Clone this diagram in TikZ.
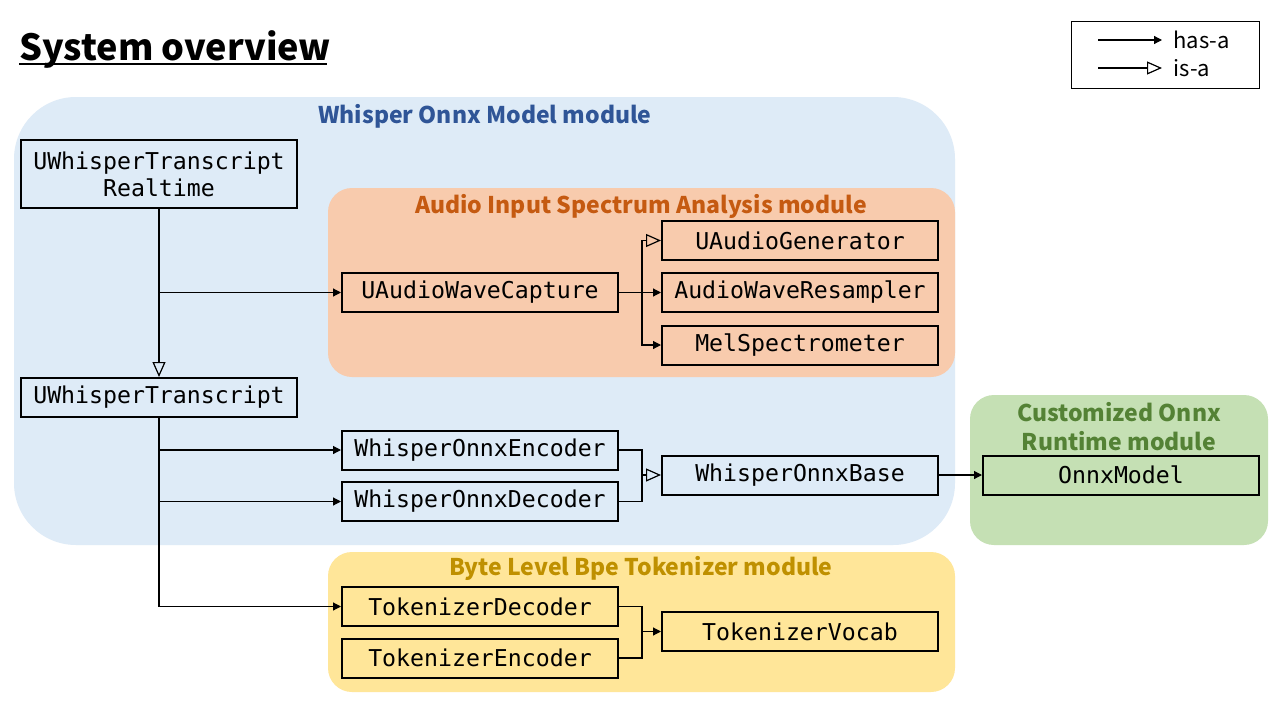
\documentclass[tikz,border=0pt]{standalone}
\usepackage{fontspec}
\setmainfont{Noto Sans}
\setmonofont{DejaVu Sans Mono}
\newfontfamily\jpfont{Noto Sans CJK JP}
\usetikzlibrary{arrows.meta,calc}
\definecolor{bluebg}{HTML}{DEEBF7}
\definecolor{bluetx}{HTML}{2F5597}
\definecolor{orbg}{HTML}{F8CBAD}
\definecolor{ortx}{HTML}{C55A11}
\definecolor{grbg}{HTML}{C5E0B4}
\definecolor{grtx}{HTML}{548235}
\definecolor{yebg}{HTML}{FFE699}
\definecolor{yetx}{HTML}{BF9000}
\tikzset{
  cls/.style={draw=black, line width=2pt, minimum width=276pt, minimum height=39pt, inner sep=0pt, font=\ttfamily\fontsize{23.2}{27}\selectfont, align=center},
  conn/.style={line width=1.2pt},
  hasa/.style={conn, -{Triangle[length=8pt,width=8pt]}},
  isa/.style={conn, -{Triangle[open,length=15pt,width=13pt,line width=1.2pt]}},
  modtitle/.style={font=\jpfont\bfseries\fontsize{23}{29}\selectfont, align=center},
  legtext/.style={font=\jpfont\fontsize{22}{26}\selectfont, anchor=west}
}
\begin{document}
\begin{tikzpicture}[x=1pt,y=-1pt]
\useasboundingbox (0,0) rectangle (1280,720);
\fill[white] (0,0) rectangle (1280,720);
% title
\node[anchor=base west, inner sep=0pt, font=\jpfont\bfseries\fontsize{36}{40}\selectfont] (title) at (19,60) {System overview};
\draw[line width=2.5pt] (19,64) -- (327,64);
% legend
\node[draw=black, line width=1pt, minimum width=188pt, minimum height=67pt, inner sep=0pt] (legend) at (1165,54.5) {};
\coordinate (l1a) at (1098,40);
\coordinate (l1b) at (1162,40);
\coordinate (l2a) at (1098,68);
\coordinate (l2b) at (1162,68);
\draw[hasa] (l1a) -- (l1b);
\draw[isa] (l2a) -- (l2b);
\node[legtext] (lhas) at (1170,40) {has-a};
\node[legtext] (lis) at (1170,68) {is-a};
% modules
\fill[bluebg, rounded corners=62pt] (14,97) rectangle (955,545);
\node[modtitle, text=bluetx] (mblue) at (485,116) {Whisper Onnx Model module};
\fill[orbg, rounded corners=24pt] (328,188) rectangle (955,377);
\node[modtitle, text=ortx] (morange) at (641,206) {Audio Input Spectrum Analysis module};
\fill[grbg, rounded corners=24pt] (970,395) rectangle (1268,545);
\node[modtitle, text=grtx] (mgreen) at (1119,427) {Customized Onnx\\Runtime module};
\fill[yebg, rounded corners=24pt] (328,552) rectangle (955,692);
\node[modtitle, text=yetx] (myellow) at (641,568) {Byte Level Bpe Tokenizer module};
% classes
\node[cls, minimum height=68pt] (rt) at (159,174) {UWhisperTranscript\\Realtime};
\node[cls] (wt) at (159,397.5) {UWhisperTranscript};
\node[cls] (cap) at (480,292.5) {UAudioWaveCapture};
\node[cls] (gen) at (800,240.5) {UAudioGenerator};
\node[cls] (res) at (800,292.5) {AudioWaveResampler};
\node[cls] (mel) at (800,345) {MelSpectrometer};
\node[cls] (enc) at (480,450) {WhisperOnnxEncoder};
\node[cls] (dec) at (480,501.5) {WhisperOnnxDecoder};
\node[cls] (base) at (800,475) {WhisperOnnxBase};
\node[cls] (onnx) at (1121,475) {OnnxModel};
\node[cls] (tdec) at (480,606.5) {TokenizerDecoder};
\node[cls] (tenc) at (480,658) {TokenizerEncoder};
\node[cls] (voc) at (800,631.5) {TokenizerVocab};
% junctions
\coordinate (je) at ($(enc.east)+(23,0)$);
\coordinate (jb) at (je |- base.west);
\coordinate (jd) at ($(tdec.east)+(23,0)$);
\coordinate (jv) at (jd |- voc.west);
% connectors
\draw[isa] (rt.south) -- (wt.north);
\draw[hasa] (rt.south |- cap.west) -- (cap.west);
\draw[hasa] (cap.east) -- (res.west);
\draw[isa] (cap.east) -- ++(23,0) |- (gen.west);
\draw[hasa] ($(cap.east)+(23,0)$) |- (mel.west);
\draw[hasa] (wt.south) |- (tdec.west);
\draw[hasa] (wt.south |- enc.west) -- (enc.west);
\draw[hasa] (wt.south |- dec.west) -- (dec.west);
\draw[isa] (enc.east) -- (je) -- (jb) -- (base.west);
\draw[conn] (dec.east) -| (jb);
\draw[hasa] (base.east) -- (onnx.west);
\draw[hasa] (tdec.east) -- (jd) -- (jv) -- (voc.west);
\draw[conn] (tenc.east) -| (jv);
\end{tikzpicture}
\end{document}
